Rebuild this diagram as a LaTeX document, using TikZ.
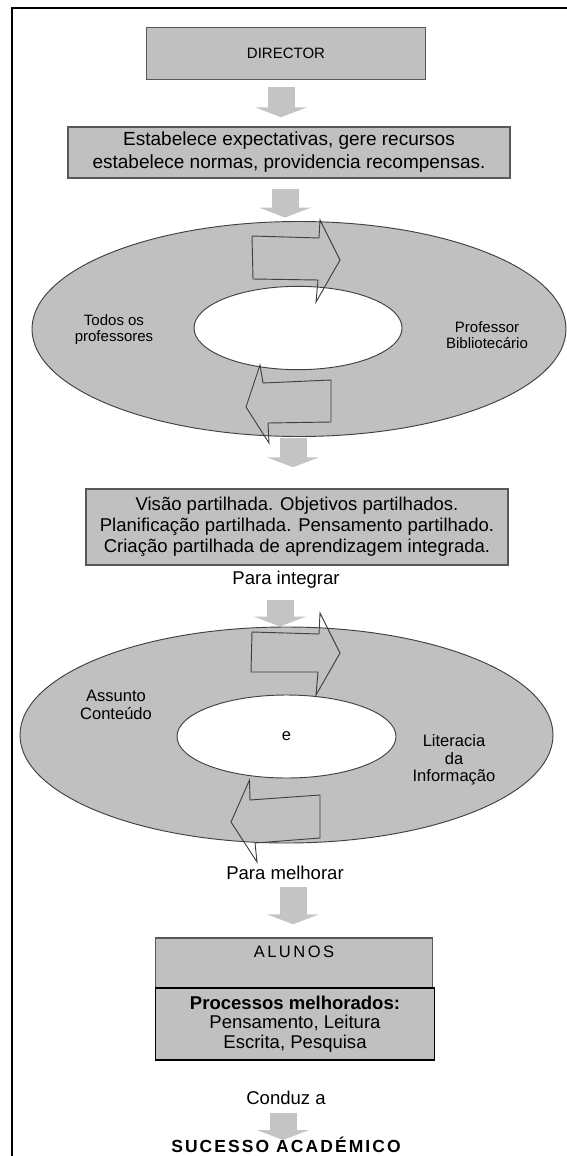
\documentclass[tikz,border=0pt]{standalone}
\usepackage{fontspec}
\setmainfont{Liberation Sans}
\usetikzlibrary{shapes.geometric, arrows.meta, positioning, calc, backgrounds}
\definecolor{boxgray}{RGB}{192,192,192}
\definecolor{edgegray}{RGB}{88,88,88}
\definecolor{arrowgray}{RGB}{196,196,196}
\definecolor{ringline}{RGB}{64,64,64}

\begin{document}
\begin{tikzpicture}[
    x=0.75pt, y=-0.75pt,
    box/.style={rectangle, draw=edgegray, line width=1.1pt, fill=boxgray, inner sep=0pt, align=center},
    ring/.style={ellipse, draw=ringline, line width=0.7pt, fill=boxgray, inner sep=0pt},
    hole/.style={ellipse, draw=ringline, line width=0.7pt, fill=white, inner sep=0pt, font=\fontsize{12.4pt}{14pt}\selectfont},
    cyclearrow/.style={draw=ringline, line width=0.7pt, line join=miter},
    flow/.style={draw=arrowgray, line width=20.25pt, -{Triangle[width=39pt, length=7.5pt]}},
    caption/.style={inner sep=0pt, align=center, font=\fontsize{13.9pt}{16pt}\selectfont},
    ringtext/.style={inner sep=0pt, align=center, font=\fontsize{11.25pt}{12pt}\selectfont},
    ringtextbig/.style={inner sep=0pt, align=center, font=\fontsize{12.4pt}{13.3pt}\selectfont}
  ]
  \useasboundingbox (0,0) rectangle (567,1156);
  \draw[line width=1.6pt] (567,8) -- (12,8) -- (12,1156);

  \node[box, minimum width=208.9pt, minimum height=39pt, font=\fontsize{11.25pt}{13pt}\selectfont] (director) at (286,53.3) {DIRECTOR};
  \node[box, minimum width=331.5pt, minimum height=38.25pt, font=\fontsize{14.25pt}{17.25pt}\selectfont] (tasks) at (289,152.5) {Estabelece expectativas, gere recursos\\estabelece normas, providencia recompensas.};

  \node[ring, minimum width=400.5pt, minimum height=161.25pt] (ring1) at (299,329) {};
  \node[hole, minimum width=156pt, minimum height=62.5pt] (hole1) at (298,328) {};
  \node[ringtext] (allteachers) at (114,330) {Todos os\\professores};
  \node[ringtext] (librarian) at (487,335) {Professor\\Bibliotecário};
  \draw[cyclearrow] (252,236) -- (319,238) -- (320,220) -- (340,260) -- (316,302) -- (318,280) -- (253,279) -- cycle;
  \draw[cyclearrow] (331,380) -- (263,383) -- (260,365) -- (246,407) -- (269,443) -- (268,423) -- (331,422) -- cycle;

  \node[box, minimum width=316.5pt, minimum height=57pt, font=\fontsize{13.9pt}{15.75pt}\selectfont] (shared) at (297,527) {Visão partilhada. Objetivos partilhados.\\Planificação partilhada. Pensamento partilhado.\\Criação partilhada de aprendizagem integrada.};
  \node[caption] (integrate) at (286,580) {Para integrar};

  \node[ring, minimum width=399.75pt, minimum height=162pt] (ring2) at (286.5,735) {};
  \node[hole, minimum width=164.25pt, minimum height=62.25pt] (hole2) at (286.5,736.5) {e};
  \node[ringtextbig] (subject) at (116,705) {Assunto\\Conteúdo};
  \node[ringtextbig] (infolit) at (454,760) {Literacia\\da\\Informação};
  \draw[cyclearrow] (252,632) -- (319,634) -- (320,613) -- (340,653) -- (316,695) -- (318,672) -- (251,672) -- cycle;
  \draw[cyclearrow] (320,795) -- (250,800) -- (249.5,780) -- (231,822) -- (257,862) -- (255,843) -- (320,838) -- cycle;
  \node[caption] (improve) at (285,873) {Para melhorar};

  \node[box, minimum width=207.4pt, minimum height=37.5pt] (students) at (294,963) {};
  \node[inner sep=0pt, below=6pt of students.north, font=\fontsize{12.4pt}{14pt}\selectfont\addfontfeature{LetterSpace=15}] (studentslabel) {ALUNOS};
  \node[box, draw=black, minimum width=208.9pt, minimum height=54pt, font=\fontsize{13.9pt}{14.6pt}\selectfont] (processes) at (295,1024) {\textbf{Processos melhorados:}\\Pensamento, Leitura\\Escrita, Pesquisa};

  \node[caption] (leads) at (286,1098) {Conduz a};
  \node[inner sep=0pt, font=\fontsize{13.1pt}{15pt}\selectfont\bfseries\addfontfeature{LetterSpace=12}] (success) at (286,1145) {SUCESSO ACADÉMICO};

  \begin{scope}[on background layer]
    \draw[flow] ($(director.south)+(-5,6.7)$) -- ($(tasks.north)+(-8,-9)$);
    \draw[flow] ($(tasks.south)+(-4,10)$) -- ($(ring1.north)+(-14,-3.5)$);
    \draw[flow] ($(ring1.south)+(-6,1.5)$) -- ($(shared.north)+(-4,-21)$);
    \draw[flow] ($(integrate.south)+(-6,11)$) -- ($(ring2.north)+(-6.5,0)$);
    \draw[flow] ($(improve.south)+(8,7)$) -- ($(students.north)+(-1,-13)$);
    \draw[flow] ($(leads.south)+(-3,7.5)$) -- ($(success.center)+(-3,-5)$);
  \end{scope}
\end{tikzpicture}
\end{document}
